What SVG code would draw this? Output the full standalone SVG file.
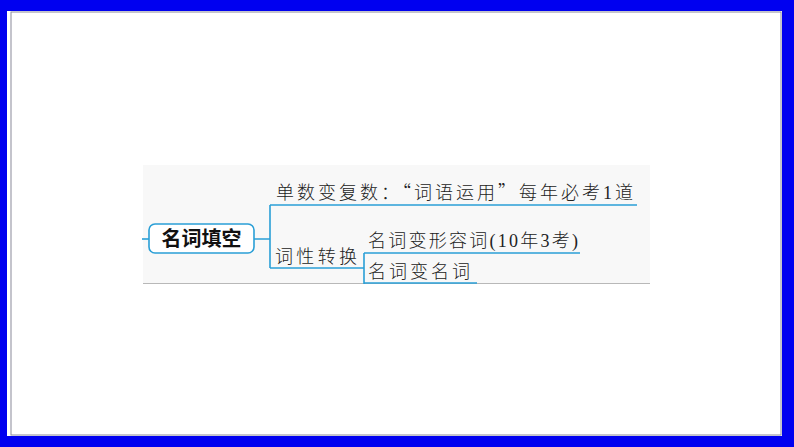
<svg xmlns="http://www.w3.org/2000/svg" width="794" height="447" viewBox="0 0 794 447">
<style>
.t{font-family:"Liberation Serif","Noto Sans CJK SC",serif;font-size:18px;fill:#222;font-weight:300}
.q{font-family:"Noto Sans CJK SC",sans-serif}
.c{fill:none;stroke:#2a9fd6;stroke-width:1.6}
.root{font-family:"Noto Sans CJK SC",sans-serif;font-size:20px;font-weight:bold;fill:#111}
</style>
<rect x="0" y="0" width="794" height="447" fill="#0000f0"/>
<rect x="7" y="11" width="775" height="425" fill="#ffffff"/>
<rect x="11" y="12" width="770" height="423" fill="none" stroke="#8a8a9a" stroke-width="1"/>
<rect x="143" y="165" width="507" height="118" fill="#f8f8f8"/>
<line x1="143" y1="283.5" x2="650" y2="283.5" stroke="#b8b8b8" stroke-width="1"/>
<g id="connectors">
<path class="c" d="M142 239H149"/>
<path class="c" d="M254 239H270M270 205V268M270 205H637M270 268H364"/>
<path class="c" d="M364 253V284M364 253H580M364 283H477"/>
</g>
<g id="root">
<rect x="149" y="224" width="105" height="29" rx="6" fill="#ffffff" stroke="#2a9fd6" stroke-width="1.6"/>
<text class="root" x="201.5" y="246" text-anchor="middle">名词填空</text>
</g>
<g id="n1">
<text class="t" x="276" y="199" textLength="357" lengthAdjust="spacing">单数变复数：<tspan class="q">“</tspan>词语运用<tspan class="q">”</tspan>每年必考1道</text>
</g>
<g id="n2">
<text class="t" x="275" y="263" textLength="82" lengthAdjust="spacing">词性转换</text>
</g>
<g id="n3">
<text class="t" x="368" y="247" textLength="210" lengthAdjust="spacing">名词变形容词(10年3考)</text>
</g>
<g id="n4">
<text class="t" x="368" y="278" textLength="102" lengthAdjust="spacing">名词变名词</text>
</g>
</svg>
